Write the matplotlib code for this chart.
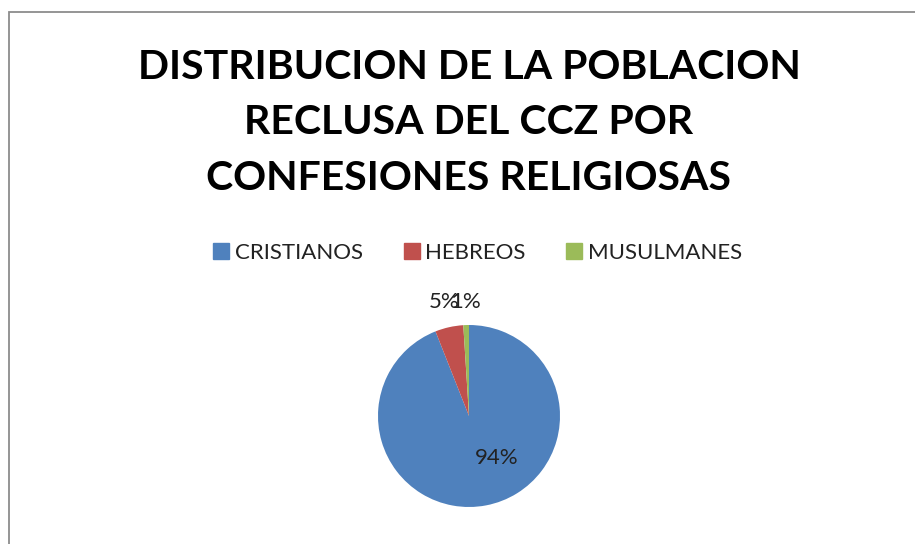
import matplotlib.pyplot as plt
from matplotlib.patches import Rectangle
import numpy as np

labels = ['CRISTIANOS', 'HEBREOS', 'MUSULMANES']
values = [94, 5, 1]
colors = ['#4F81BD', '#C0504D', '#9BBB59']
title = 'DISTRIBUCION DE LA POBLACION\nRECLUSA DEL CCZ POR\nCONFESIONES RELIGIOSAS'

plt.rcParams['font.family'] = ['Lato', 'DejaVu Sans']

W, H = 915, 544
fig = plt.figure(figsize=(W / 100, H / 100), dpi=100)

# chart frame (only left/top edges visible)
fig.patches.append(Rectangle((9 / W, -0.1), 1.2, 1.1 - 12 / H,
                             transform=fig.transFigure, fill=False,
                             edgecolor='#8c8c8c', linewidth=1.3))

fig.text(469 / W, 1 - 123 / H, title, ha='center', va='center',
         fontsize=29.5, fontweight='bold', linespacing=1.62)

# pie
cx, cy, r = 469, 416, 91
ax = fig.add_axes([(cx - r) / W, 1 - (cy + r) / H, 2 * r / W, 2 * r / H])
wedges, texts, autotexts = ax.pie(values, colors=colors, startangle=90,
                                  counterclock=False, autopct='%1.0f%%',
                                  pctdistance=0.55, radius=1,
                                  textprops={'fontsize': 16, 'color': '#222222'})
ax.set_xlim(-1, 1)
ax.set_ylim(-1, 1)
ax.set_aspect('auto')
ax.axis('off')

for w, t, v in zip(wedges, autotexts, values):
    if v < 10:
        mid = np.deg2rad((w.theta1 + w.theta2) / 2)
        t.set_position((1.27 * np.cos(mid), 1.25))
t = autotexts[0]
t.set_position((0.30, -0.46))

handles = [plt.Line2D([], [], marker='s', linestyle='none', markersize=11,
                      markerfacecolor=c, markeredgecolor=c) for c in colors]
fig.legend(handles, labels, loc='center', bbox_to_anchor=(476 / W, 1 - 253 / H),
           ncol=3, frameon=False, fontsize=16, handletextpad=0.1,
           columnspacing=1.7, handlelength=1.0, labelcolor='#222222')

fig.savefig('out.png', dpi=100)
